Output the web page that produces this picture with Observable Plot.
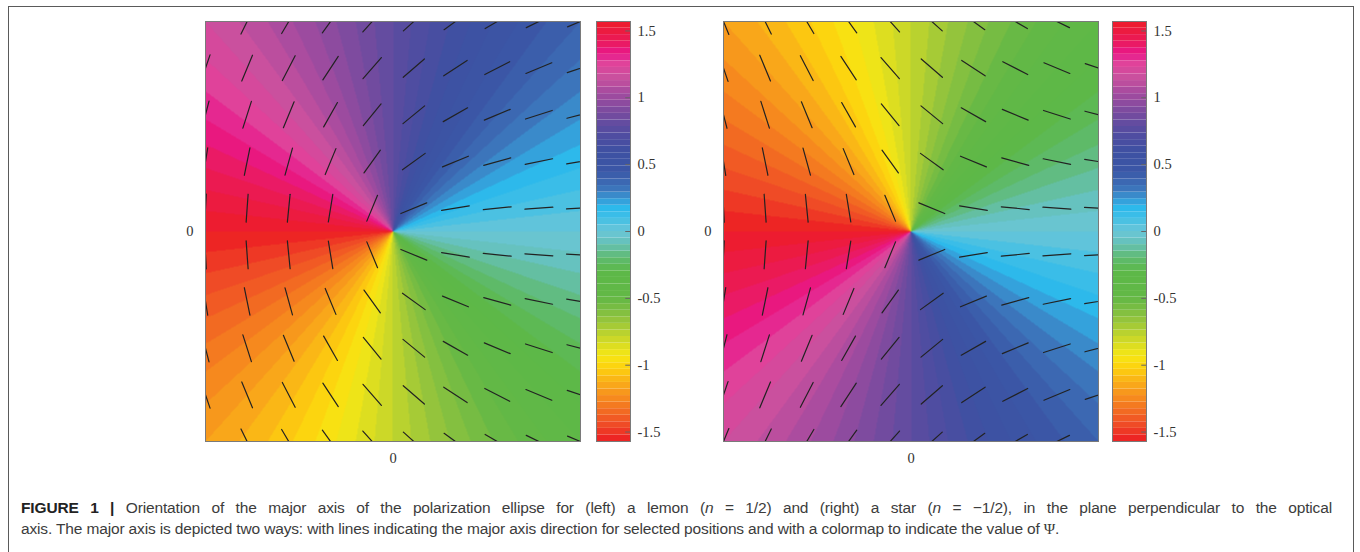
<!DOCTYPE html>
<html>
<head>
<meta charset="utf-8">
<script src="https://cdn.jsdelivr.net/npm/d3@7"></script>
<script src="https://cdn.jsdelivr.net/npm/@observablehq/plot@0.6"></script>
<style>
  html, body { margin: 0; padding: 0; background: #fff; overflow: hidden; }
  #root { position: relative; width: 1360px; height: 552px; }
  .frame { position: absolute; left: 8px; top: 6px; width: 1346px; height: 620px;
           border: 1.5px solid #5a5a5a; border-bottom: none; box-sizing: border-box; }
  .abs { position: absolute; }
  .caption { position: absolute; left: 21px; top: 497px; width: 1311px;
             font-family: "Liberation Sans", Arial, sans-serif; font-size: 15.5px; letter-spacing: -0.15px;
             line-height: 21px; color: #3c3c3c; }
  .caption .l1 { display: block; white-space: nowrap; text-align: justify; text-align-last: justify; }
  .caption .l2 { display: block; white-space: nowrap; }
  .caption b { color: #222; }
  .caption .psi { font-family: "Liberation Serif", serif; }
</style>
</head>
<body>
<div id="root">
  <div class="frame"></div>
  <div class="caption"><span class="l1"><b>FIGURE 1 |</b> Orientation of the major axis of the polarization ellipse for (left) a lemon (<i>n</i> = 1/2) and (right) a star (<i>n</i> = −1/2), in the plane perpendicular to the optical</span><span class="l2">axis. The major axis is depicted two ways: with lines indicating the major axis direction for selected positions and with a colormap to indicate the value of <span class="psi">Ψ</span>.</span></div>
</div>
<script>
// ---- data ----
const panelNames = ["lemon", "star"];
const indexN = [0.5, -0.5];                       // singularity index n for each panel
const gridX = [-1, -0.778, -0.556, -0.333, -0.111, 0.111, 0.333, 0.556, 0.778, 1];
const gridY = [-1, -0.778, -0.556, -0.333, -0.111, 0.111, 0.333, 0.556, 0.778, 1];
const axisTicks = [0];
const colorbarTicks = [-1.5, -1, -0.5, 0, 0.5, 1, 1.5];
const psiLimits = [-Math.PI / 2, Math.PI / 2];
const colorLevels = 64;
// colormap (value, colour)
const cmapValues = [-1.5708, -1.45, -1.3, -1.15, -1.02, -0.93, -0.8, -0.65, -0.5, -0.3, -0.2, -0.08, 0, 0.1, 0.18, 0.25, 0.33, 0.45, 0.6, 0.75, 0.9, 1.02, 1.15, 1.25, 1.33, 1.42, 1.5708];
const cmapColors = ["#ed1c24", "#ef4a26", "#f47a20", "#f9a81a", "#fdd20e", "#f6e714", "#c8d72a", "#8fc23e", "#63b846", "#5cb848", "#5fba70", "#66c2bd", "#6bc6d8", "#40bfe6", "#2bb8ec", "#3a93d0", "#3c70b8", "#3b57a6", "#3e50a2", "#554ca0", "#7b4b9f", "#a04b9f", "#c9509e", "#e0439a", "#e8188a", "#eb1a5a", "#ed1c28"];

// ---- colour scale (banded, like contourf) ----
const cmap = d3.scaleLinear().domain(cmapValues).range(cmapColors).interpolate(d3.interpolateRgb).clamp(true);
const step = (psiLimits[1] - psiLimits[0]) / colorLevels;
const thresholds = d3.range(1, colorLevels).map(k => psiLimits[0] + k * step);
const bands = d3.range(colorLevels).map(k => ({
  lo: psiLimits[0] + k * step, hi: psiLimits[0] + (k + 1) * step,
  color: cmap(psiLimits[0] + (k + 0.5) * step)
}));
const colorScale = {type: "threshold", domain: thresholds, range: bands.map(b => b.color)};

const lineShape = {draw(ctx, l) { ctx.moveTo(0, 0); ctx.lineTo(0, -l); }};
const serif = {fontFamily: "Liberation Serif, Times New Roman, serif", fontSize: "14.5px", color: "#333", background: "transparent", overflow: "visible"};

const root = document.getElementById("root");
function place(el, left, top) { el.classList.add("abs"); el.style.left = left + "px"; el.style.top = top + "px"; root.appendChild(el); }

const layout = [
  {fieldLeft: 205, barLeft: 596},
  {fieldLeft: 723, barLeft: 1112}
];
const PW = 375, PH = 420, TOP = 21;

panelNames.forEach((name, i) => {
  const n = indexN[i];
  const psi = (x, y) => n * Math.atan2(y, x);
  const pts = [];
  gridY.forEach(y => gridX.forEach(x => pts.push({x, y, psi: psi(x, y)})));

  const mL = 40, mB = 32, mT = 4, mR = 4;
  const field = Plot.plot({
    width: PW + mL + mR, height: PH + mT + mB,
    marginLeft: mL, marginRight: mR, marginTop: mT, marginBottom: mB,
    style: serif,
    x: {domain: [-1, 1]},
    y: {domain: [-1, 1]},
    color: colorScale,
    marks: [
      Plot.raster({fill: psi, x1: -1, x2: 1, y1: -1, y2: 1, pixelSize: 1}),
      Plot.vector(pts, {x: "x", y: "y", rotate: d => 90 - d.psi * 180 / Math.PI, length: 28,
        anchor: "middle", shape: lineShape, stroke: "#222", strokeWidth: 1.2, clip: true}),
      Plot.frame({stroke: "#7a7a7a", strokeWidth: 1}),
      Plot.axisX(axisTicks, {tickSize: 0, tickPadding: 11, tickFormat: d => String(d), label: null}),
      Plot.axisY(axisTicks, {tickSize: 0, tickPadding: 12, tickFormat: d => String(d), label: null})
    ]
  });
  place(field, layout[i].fieldLeft - mL, TOP - mT);

  const bL = 0, bR = 40;
  const bar = Plot.plot({
    width: 34 + bL + bR, height: PH + mT + mB,
    marginLeft: bL, marginRight: bR, marginTop: mT, marginBottom: mB,
    style: serif,
    x: {domain: [0, 1], axis: null},
    y: {domain: psiLimits, axis: null},
    marks: [
      Plot.rect(bands, {x1: 0, x2: 1, y1: "lo", y2: "hi", fill: "color", inset: 0}),
      Plot.ruleY(colorbarTicks, {x1: 0.86, x2: 1, stroke: "#666", strokeWidth: 1}),
      Plot.frame({stroke: "#7a7a7a", strokeWidth: 1}),
      Plot.axisY(colorbarTicks, {anchor: "right", tickSize: 0, tickPadding: 7,
        tickFormat: d => String(d), label: null})
    ]
  });
  place(bar, layout[i].barLeft - bL, TOP - mT);
});
</script>
</body>
</html>
